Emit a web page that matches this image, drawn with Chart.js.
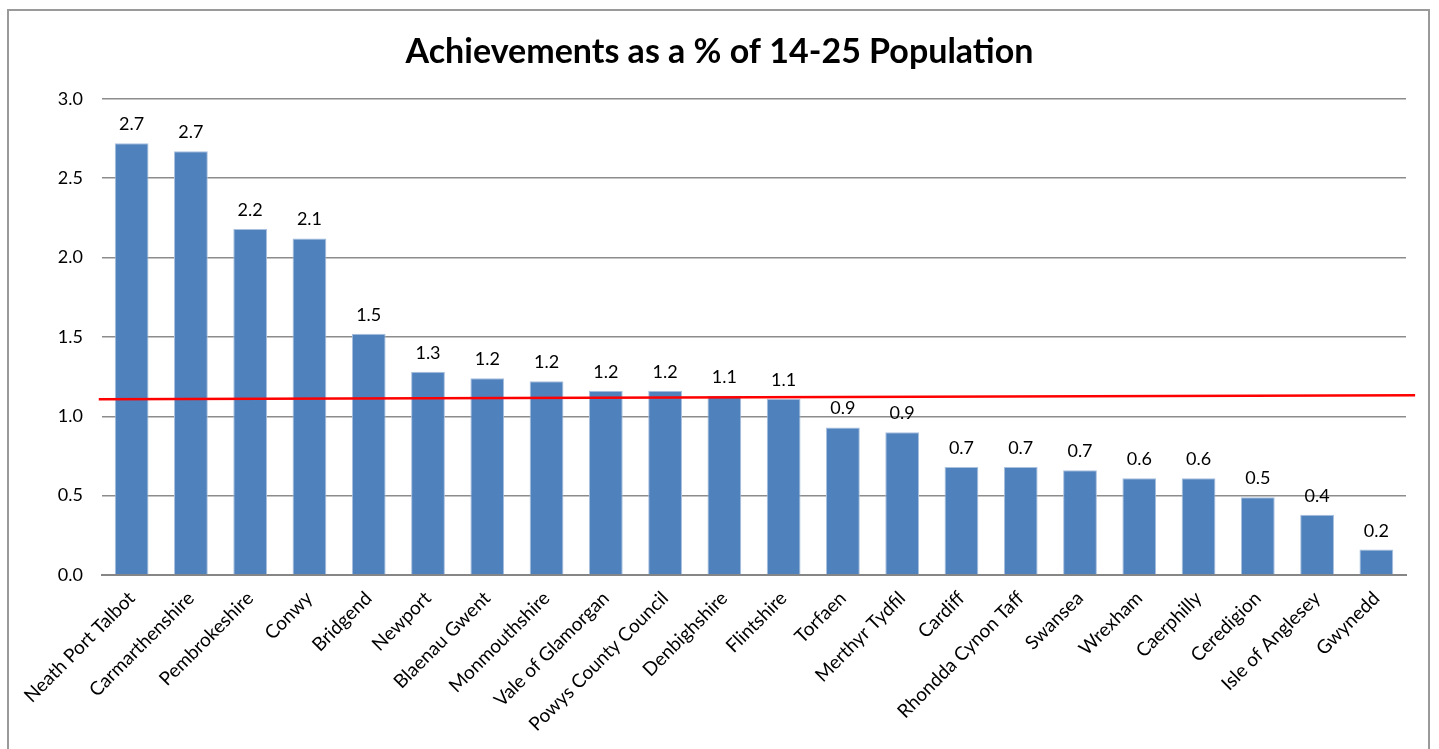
<!DOCTYPE html>
<html>
<head>
<meta charset="utf-8">
<script src="https://cdn.jsdelivr.net/npm/chart.js@4"></script>
<style>
  html, body { margin: 0; padding: 0; background: #fff; }
  #wrap { width: 1439px; height: 749px; position: relative; }
</style>
</head>
<body>
<div id="wrap"><canvas id="achievements_chart"></canvas></div>
<script>
const areas = [
  "Neath Port Talbot", "Carmarthenshire", "Pembrokeshire", "Conwy", "Bridgend",
  "Newport", "Blaenau Gwent", "Monmouthshire", "Vale of Glamorgan",
  "Powys County Council", "Denbighshire", "Flintshire", "Torfaen",
  "Merthyr Tydfil", "Cardiff", "Rhondda Cynon Taff", "Swansea", "Wrexham",
  "Caerphilly", "Ceredigion", "Isle of Anglesey", "Gwynedd",
];
const achievements = [
  2.72, 2.67, 2.18, 2.12, 1.52, 1.28, 1.24, 1.22, 1.16, 1.16, 1.13,
  1.11, 0.93, 0.90, 0.68, 0.68, 0.66, 0.61, 0.61, 0.49, 0.38, 0.16,
];
// hand drawn red average line (start / end), on a 0..1 horizontal scale
const lineX = [-0.0025, 1.007];
const lineY = [1.107, 1.132];
const yTicks = [0, 0.5, 1, 1.5, 2, 2.5, 3];

const FONT = "Lato, 'Open Sans', sans-serif";

// draws the value above each bar
const barValues = {
  id: "barValues",
  afterDatasetsDraw(chart) {
    const ctx = chart.ctx;
    const meta = chart.getDatasetMeta(0);
    ctx.save();
    ctx.font = "18px " + FONT;
    ctx.fillStyle = "#000";
    ctx.textAlign = "center";
    ctx.textBaseline = "alphabetic";
    meta.data.forEach((bar, i) => {
      ctx.fillText(achievements[i].toFixed(1), bar.x, bar.y - 13);
    });
    ctx.restore();
  },
};

// grey outer frame of the chart object
const frame = {
  id: "frame",
  beforeDraw(chart) {
    const ctx = chart.ctx;
    ctx.save();
    ctx.strokeStyle = "#9a9a9a";
    ctx.lineWidth = 2;
    ctx.strokeRect(8, 10, 1421, 800);
    ctx.restore();
  },
};

const ctx = document.getElementById("achievements_chart").getContext("2d");
const myChart = new Chart(ctx, {
  type: "bar",
  data: {
    labels: areas,
    datasets: [
      {
        label: "Achievements",
        data: achievements,
        backgroundColor: "#4F81BD",
        borderColor: "#a9c0de",
        borderWidth: { left: 1, right: 1, top: 1, bottom: 0 },
        barPercentage: 0.57,
        categoryPercentage: 1,
        grouped: false,
        order: 2,
      },
      {
        type: "line",
        label: "Average",
        xAxisID: "x2",
        data: lineX.map((x, i) => ({ x: x, y: lineY[i] })),
        borderColor: "#ff0000",
        borderWidth: 2.5,
        pointRadius: 0,
        clip: false,
        order: 1,
      },
    ],
  },
  options: {
    responsive: true,
    maintainAspectRatio: false,
    animation: false,
    layout: { padding: { left: 33, right: 33, top: 0, bottom: 0 } },
    plugins: {
      legend: { display: false },
      tooltip: { enabled: false },
      title: {
        display: true,
        text: "Achievements as a % of 14-25 Population",
        color: "#000",
        font: { family: FONT, size: 34, weight: "bold", lineHeight: 1.2 },
        padding: { top: 32, bottom: 26 },
      },
    },
    scales: {
      x: {
        grid: { display: false, drawTicks: false },
        border: { display: true, color: "#868686", width: 2 },
        ticks: {
          color: "#000",
          font: { family: FONT, size: 19 },
          minRotation: 45,
          maxRotation: 45,
          autoSkip: false,
          padding: 12,
        },
        afterFit: (scale) => { scale.height = 174; },
      },
      x2: {
        type: "linear",
        display: false,
        offset: false,
        min: 0,
        max: 1,
      },
      y: {
        min: 0,
        max: 3,
        afterBuildTicks: (scale) => {
          scale.ticks = yTicks.map((v) => ({ value: v }));
        },
        grid: { color: "#8c8c8c", lineWidth: 1.5, drawTicks: false },
        border: { display: false },
        ticks: {
          color: "#000",
          font: { family: FONT, size: 18 },
          padding: 19,
          callback: (value) => Number(value).toFixed(1),
        },
        afterFit: (scale) => { scale.width = 69; },
      },
    },
  },
  plugins: [frame, barValues],
});
</script>
</body>
</html>
